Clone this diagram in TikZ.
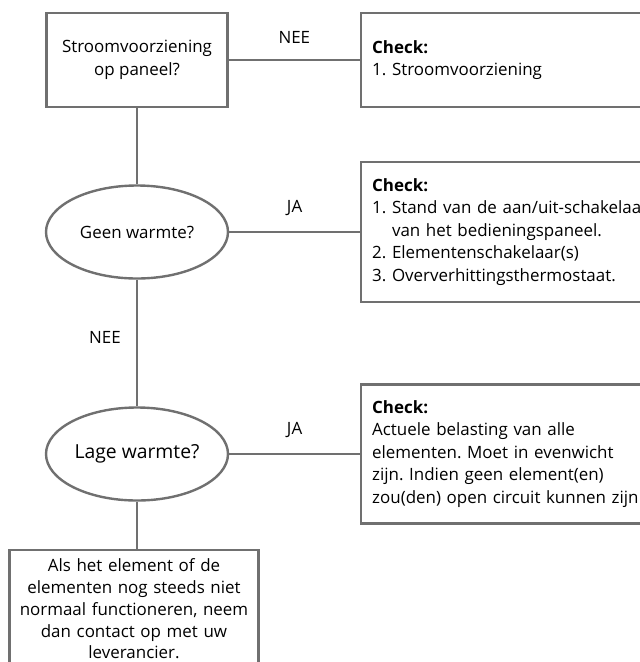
\documentclass[tikz,border=0pt]{standalone}
\usepackage{fontspec}
\setmainfont{Open Sans}
\usetikzlibrary{shapes.geometric,positioning}
\definecolor{linegray}{RGB}{112,112,112}
\frenchspacing

\begin{document}
\begin{tikzpicture}[x=0.75pt,y=-0.75pt,
    every node/.style={font=\fontsize{12.7}{16.9}\selectfont},
    grayline/.style={draw=linegray,line width=1.8pt},
    qbox/.style={grayline,rectangle,minimum width=135.75pt,minimum height=70.5pt,align=center,inner sep=0pt},
    qell/.style={grayline,ellipse,minimum width=136.5pt,minimum height=69.75pt,inner sep=0pt},
    chkbox/.style={grayline,rectangle,anchor=west,text width=210pt,align=left,inner xsep=8.25pt},
    endbox/.style={grayline,rectangle,anchor=north,text width=179pt,align=center,inner xsep=4pt,inner ysep=7pt,
        font=\fontsize{12.7}{16.3}\selectfont}]

    \useasboundingbox (0,0) rectangle (640,662);
    \clip (0,0) rectangle (640,662);

    % Questions
    \node[qbox] (power) at (137,60) {Stroomvoorziening\\op paneel?};
    \node[qell] (noheat) at (137,232) {Geen warmte?};
    \node[qell,font=\fontsize{14.5}{17}\selectfont] (lowheat) at (137,454) {Lage warmte?};
    \node[endbox] (dealer) at (134,548.5) {Als het element of de\\elementen nog steeds niet\\normaal functioneren, neem\\dan contact op met uw\\leverancier.};

    % Checks
    \node[chkbox,minimum height=70.5pt] (chk1) at (360,60) {\textbf{Check:}\\1. Stroomvoorziening};
    \node[chkbox,minimum height=105pt] (chk2) at (360,232) {\textbf{Check:}\\1. Stand van de aan/uit-schakelaar\\\phantom{1.\ }van het bedieningspaneel.\\2. Elementenschakelaar(s)\\3. Oververhittingsthermostaat.};
    \node[chkbox,minimum height=104.25pt] (chk3) at (360,454) {\textbf{Check:}\\Actuele belasting van alle\\elementen. Moet in evenwicht\\zijn. Indien geen element(en)\\zou(den) open circuit kunnen zijn};

    % Connectors
    \draw[grayline] (power) -- node[above=8pt] {NEE} (chk1);
    \draw[grayline] (power) -- (noheat);
    \draw[grayline] (noheat) -- node[above=8pt] {JA} (chk2);
    \draw[grayline] (noheat) -- node[left=8pt,pos=0.46] {NEE} (lowheat);
    \draw[grayline] (lowheat) -- node[above=8pt] {JA} (chk3);
    \draw[grayline] (lowheat) -- (lowheat |- dealer.north);
\end{tikzpicture}
\end{document}
